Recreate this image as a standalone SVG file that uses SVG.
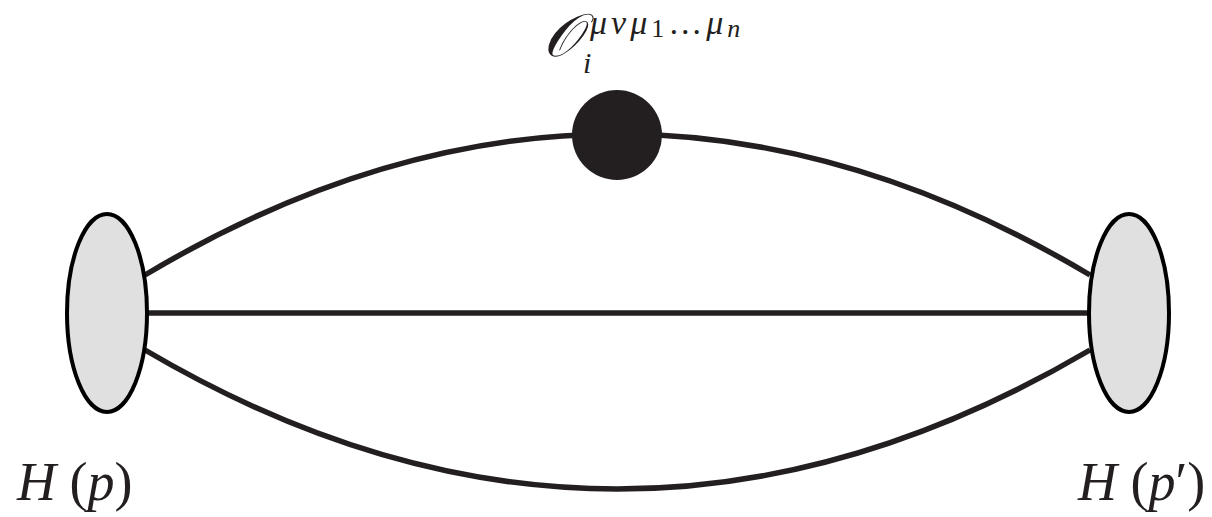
<svg xmlns="http://www.w3.org/2000/svg" width="1212" height="517" viewBox="0 0 1212 517">
<style>
.ln{fill:none;stroke:#231f20;stroke-width:5.5}
.blob{fill:#e0e0e0;stroke:#000;stroke-width:4}
.t{font-family:"Liberation Serif","DejaVu Serif",serif;font-style:italic;fill:#231f20}
.r{font-style:normal}
</style>
<rect width="1212" height="517" fill="#fff"/>
<g id="connectors">
<path class="ln" d="M145,275 Q617,-7 1090,275"/>
<path class="ln" d="M145,313 L1090,313"/>
<path class="ln" d="M145,350 Q617,628 1090,350"/>
</g>
<g id="hadron-in">
<ellipse class="blob" cx="107" cy="313" rx="40" ry="99"/>
<text class="t" x="17" y="500" font-size="54">H <tspan class="r">(</tspan>p<tspan class="r">)</tspan></text>
</g>
<g id="hadron-out">
<ellipse class="blob" cx="1129" cy="313" rx="40" ry="99"/>
<text class="t" x="1078" y="500" font-size="54">H <tspan class="r">(</tspan>p<tspan class="r">′)</tspan></text>
</g>
<g id="operator">
<circle cx="617" cy="135" r="45" fill="#231f20"/>
<text class="t" x="543" y="56" font-size="60">𝒪</text>
<text class="t" x="583" y="73" font-size="30">i</text>
<text class="t" x="590" y="34" font-size="34" letter-spacing="4">μνμ<tspan class="r" font-size="26" dy="3">1</tspan><tspan class="r" dy="-3">…</tspan>μ<tspan font-size="26" dy="3">n</tspan></text>
</g>
</svg>
